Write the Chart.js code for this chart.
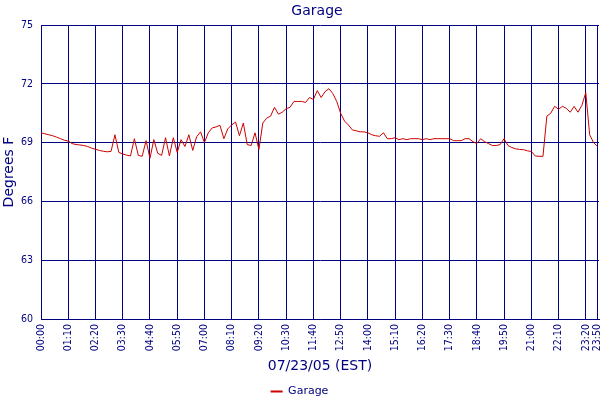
<!DOCTYPE html>
<html>
<head>
<meta charset="utf-8">
<script src="https://cdn.jsdelivr.net/npm/chart.js@4.4.0/dist/chart.umd.min.js"></script>
<style>
  html, body { margin: 0; padding: 0; background: #ffffff; }
  #wrap { width: 600px; height: 400px; }
</style>
</head>
<body>
<div id="wrap"><canvas id="chart"></canvas></div>
<script>
// Chart text
const chartTitle = "Garage";
const seriesName = "Garage";
const xTitle = "07/23/05 (EST)";
const yTitle = "Degrees F";

// Axis ticks
const yTicks = [60, 63, 66, 69, 72, 75];
const tickLabels = [
  "00:00", "01:10", "02:20", "03:30", "04:40", "05:50", "07:00",
  "08:10", "09:20", "10:30", "11:40", "12:50", "14:00", "15:10",
  "16:20", "17:30", "18:40", "19:50", "21:00", "22:10", "23:20", "23:50",
];

// Temperature readings, one every 10 minutes from 00:00 to 23:50
const temps = [
  69.50, 69.45, 69.40, 69.35, 69.28, 69.20, 69.12, 69.08, 68.95, 68.90, 68.88, 68.85,
  68.80, 68.72, 68.66, 68.60, 68.56, 68.53, 68.55, 69.40, 68.50, 68.42, 68.36, 68.32,
  69.20, 68.35, 68.30, 69.10, 68.20, 69.15, 68.45, 68.35, 69.25, 68.32, 69.25, 68.50,
  69.15, 68.80, 69.40, 68.60, 69.30, 69.55, 69.00, 69.50, 69.75, 69.80, 69.88, 69.20,
  69.70, 69.90, 70.05, 69.35, 70.00, 68.90, 68.85, 69.50, 68.65, 70.00, 70.25, 70.35,
  70.80, 70.45, 70.55, 70.73, 70.80, 71.10, 71.10, 71.10, 71.05, 71.30, 71.20, 71.65,
  71.30, 71.60, 71.75, 71.50, 71.10, 70.50, 70.10, 69.90, 69.65, 69.60, 69.55, 69.55,
  69.50, 69.40, 69.35, 69.32, 69.50, 69.20, 69.20, 69.25, 69.15, 69.20, 69.15, 69.20,
  69.20, 69.20, 69.15, 69.20, 69.15, 69.20, 69.20, 69.20, 69.20, 69.20, 69.10, 69.10,
  69.10, 69.20, 69.20, 69.05, 68.95, 69.20, 69.05, 68.95, 68.85, 68.85, 68.90, 69.20,
  68.85, 68.75, 68.68, 68.65, 68.64, 68.58, 68.55, 68.32, 68.30, 68.30, 70.35, 70.50,
  70.85, 70.70, 70.85, 70.75, 70.55, 70.85, 70.55, 70.90, 71.55, 69.40, 69.00, 68.80,
];

// Colors and fonts
const navy = "#000080";
const lineRed = "#cc0000";
const textFont = "'DejaVu Sans', Verdana, sans-serif";
const tickFont = "'DejaVu Sans Condensed', 'DejaVu Sans', sans-serif";

// "HH:MM" -> minutes after midnight
function toMinutes(label) {
  const [h, m] = label.split(":");
  return parseInt(h) * 60 + parseInt(m);
}

const tickMinutes = tickLabels.map(toMinutes);
const points = temps.map((t, i) => ({ x: i * 10, y: t }));

// Title centred over the plot area
const titlePlugin = {
  id: "plotTitle",
  afterDraw(chart) {
    const { ctx, chartArea } = chart;
    ctx.save();
    ctx.font = "14px " + textFont;
    ctx.fillStyle = navy;
    ctx.textAlign = "center";
    ctx.textBaseline = "alphabetic";
    ctx.fillText(chartTitle, (chartArea.left + chartArea.right) / 2 - 3, 15);
    ctx.restore();
  },
};

const ctx = document.getElementById("chart").getContext("2d");

new Chart(ctx, {
  type: "line",
  data: {
    datasets: [
      {
        label: seriesName,
        data: points,
        borderColor: lineRed,
        backgroundColor: lineRed,
        borderWidth: 1,
        pointRadius: 0,
        tension: 0,
        fill: false,
      },
    ],
  },
  options: {
    responsive: true,
    maintainAspectRatio: false,
    animation: false,
    layout: {
      padding: { top: 25, right: 1, left: 0, bottom: 0 },
    },
    scales: {
      x: {
        type: "linear",
        min: 0,
        max: 1434,
        afterBuildTicks: (scale) => {
          scale.ticks = tickMinutes.map((v) => ({ value: v }));
        },
        afterFit: (scale) => {
          scale.height = 61;
          // rotated labels should not push the plot inwards
          scale.paddingLeft = 0;
          scale.paddingRight = 0;
        },
        ticks: {
          autoSkip: false,
          minRotation: 90,
          maxRotation: 90,
          padding: 5,
          color: navy,
          font: { family: tickFont, size: 10.5 },
          callback: function (value) {
            const i = tickMinutes.indexOf(value);
            return i >= 0 ? tickLabels[i] : "";
          },
        },
        grid: {
          color: navy,
          lineWidth: 1,
          drawTicks: false,
        },
        border: { color: navy, width: 1 },
        title: {
          display: true,
          text: xTitle,
          color: navy,
          font: { family: textFont, size: 14 },
          padding: { top: 0, bottom: 5 },
        },
      },
      y: {
        min: 60,
        max: 75,
        afterBuildTicks: (scale) => {
          scale.ticks = yTicks.map((v) => ({ value: v }));
        },
        afterFit: (scale) => {
          scale.width = 41;
        },
        ticks: {
          padding: 8,
          color: navy,
          font: { family: tickFont, size: 10.5 },
        },
        grid: {
          color: navy,
          lineWidth: 1,
          drawTicks: false,
        },
        border: { color: navy, width: 1 },
        title: {
          display: true,
          text: yTitle,
          color: navy,
          font: { family: textFont, size: 14 },
          padding: { top: 1, bottom: 0 },
        },
      },
    },
    plugins: {
      title: { display: false },
      tooltip: { enabled: false },
      legend: {
        display: true,
        position: "bottom",
        maxHeight: 20,
        labels: {
          color: navy,
          font: { family: textFont, size: 11 },
          padding: 6,
          usePointStyle: true,
          pointStyle: "line",
          pointStyleWidth: 12,
          generateLabels: function (chart) {
            const items = Chart.defaults.plugins.legend.labels.generateLabels(chart);
            items.forEach((item) => {
              item.lineWidth = 2;
              item.pointStyle = "line";
            });
            return items;
          },
        },
      },
    },
  },
  plugins: [titlePlugin],
});
</script>
</body>
</html>
